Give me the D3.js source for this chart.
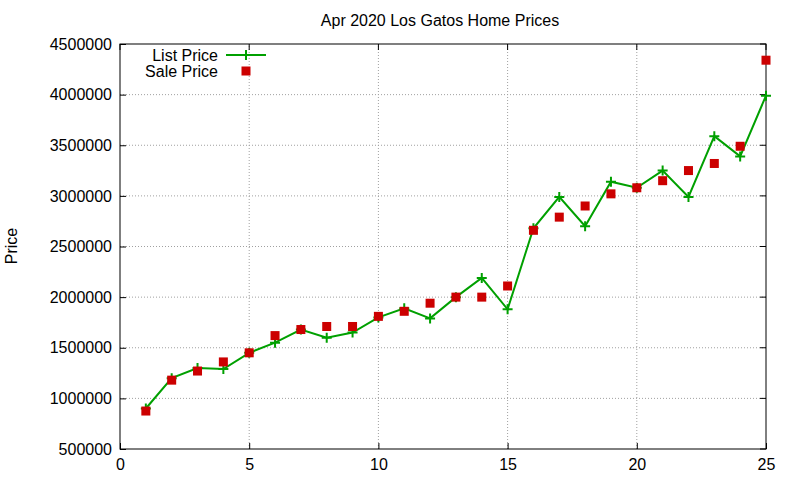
<!DOCTYPE html>
<html><head><meta charset="utf-8">
<script src="https://cdn.jsdelivr.net/npm/d3@7"></script>
<style>body{margin:0;background:#fff}svg{font-family:"Liberation Sans",Arial,sans-serif}</style>
</head><body><div id="chart"></div>
<script>
const months = d3.range(1, 26);
const listPrice = [900000,1200000,1300000,1290000,1450000,1550000,1680000,1600000,1650000,1800000,1890000,1790000,2000000,2190000,1880000,2680000,2990000,2700000,3140000,3080000,3250000,2990000,3590000,3390000,3990000];
const salePrice = [875000,1180000,1270000,1360000,1450000,1620000,1680000,1710000,1710000,1810000,1860000,1940000,2000000,2000000,2110000,2660000,2790000,2900000,3020000,3080000,3150000,3250000,3320000,3490000,4340000];
const xTicks = [0,5,10,15,20,25];
const yTicks = d3.range(500000, 4500001, 500000);

const width = 800, height = 480;
const margin = {top: 44, right: 34, bottom: 31, left: 120};

const svg = d3.select("#chart").append("svg").attr("width", width).attr("height", height);

const x = d3.scaleLinear().domain([0, 25]).range([margin.left, width - margin.right]);
const y = d3.scaleLinear().domain([500000, 4500000]).range([height - margin.bottom, margin.top]);

// Grid
svg.append("g").selectAll("line").data(xTicks.slice(1, -1)).enter().append("line")
  .attr("x1", d => x(d)).attr("x2", d => x(d)).attr("y1", y(500000)).attr("y2", y(4500000))
  .attr("stroke", "#a0a0a0").attr("stroke-dasharray", "1,2");
svg.append("g").selectAll("line").data(yTicks.slice(1, -1)).enter().append("line")
  .attr("x1", x(0)).attr("x2", x(25)).attr("y1", d => y(d)).attr("y2", d => y(d))
  .attr("stroke", "#a0a0a0").attr("stroke-dasharray", "1,2");

// Axes
svg.append("g").attr("transform", `translate(0,${y(500000)})`)
  .call(d3.axisBottom(x).tickValues(xTicks).tickSize(-6).tickPadding(10))
  .call(g => g.select(".domain").remove());
svg.append("g").attr("transform", `translate(${x(0)},0)`)
  .call(d3.axisLeft(y).tickValues(yTicks).tickSize(-6).tickPadding(8).tickFormat(d3.format("d")))
  .call(g => g.select(".domain").remove());
svg.selectAll(".tick text").attr("font-size", 16).attr("fill", "#000");
svg.selectAll(".tick line").attr("stroke", "#000");
// mirrored ticks
svg.append("g").selectAll("line").data(xTicks).enter().append("line")
  .attr("x1", d => x(d)).attr("x2", d => x(d)).attr("y1", y(4500000)).attr("y2", y(4500000) + 6).attr("stroke", "#000");
svg.append("g").selectAll("line").data(yTicks).enter().append("line")
  .attr("x1", x(25)).attr("x2", x(25) - 6).attr("y1", d => y(d)).attr("y2", d => y(d)).attr("stroke", "#000");
svg.append("rect").attr("x", x(0)).attr("y", y(4500000))
  .attr("width", x(25) - x(0)).attr("height", y(500000) - y(4500000))
  .attr("fill", "none").attr("stroke", "#000");

// List price line
const line = d3.line().x((d, i) => x(months[i])).y(d => y(d));
svg.append("path").datum(listPrice).attr("d", line)
  .attr("fill", "none").attr("stroke", "#00a000").attr("stroke-width", 2);
const plus = (g, cx, cy) => g.append("path")
  .attr("d", `M${cx-5},${cy}H${cx+5}M${cx},${cy-5}V${cy+5}`)
  .attr("stroke", "#00a000").attr("stroke-width", 2);
const pg = svg.append("g");
listPrice.forEach((d, i) => plus(pg, x(months[i]), y(d)));

// Sale price squares
svg.append("g").selectAll("rect").data(salePrice).enter().append("rect")
  .attr("x", (d, i) => x(months[i]) - 4.5).attr("y", d => y(d) - 4.5)
  .attr("width", 9).attr("height", 9).attr("fill", "#cc0000");

// Legend
svg.append("text").attr("x", 218).attr("y", 61).attr("text-anchor", "end").attr("font-size", 16).text("List Price");
svg.append("line").attr("x1", 226).attr("x2", 266).attr("y1", 55).attr("y2", 55).attr("stroke", "#00a000").attr("stroke-width", 2);
plus(svg, 246, 55);
svg.append("text").attr("x", 218).attr("y", 77).attr("text-anchor", "end").attr("font-size", 16).text("Sale Price");
svg.append("rect").attr("x", 241.5).attr("y", 66.5).attr("width", 9).attr("height", 9).attr("fill", "#cc0000");

// Title and label
svg.append("text").attr("x", 440).attr("y", 26).attr("text-anchor", "middle").attr("font-size", 16).text("Apr 2020 Los Gatos Home Prices");
svg.append("text").attr("transform", "translate(17,246) rotate(-90)").attr("text-anchor", "middle").attr("font-size", 16).text("Price");
</script></body></html>
